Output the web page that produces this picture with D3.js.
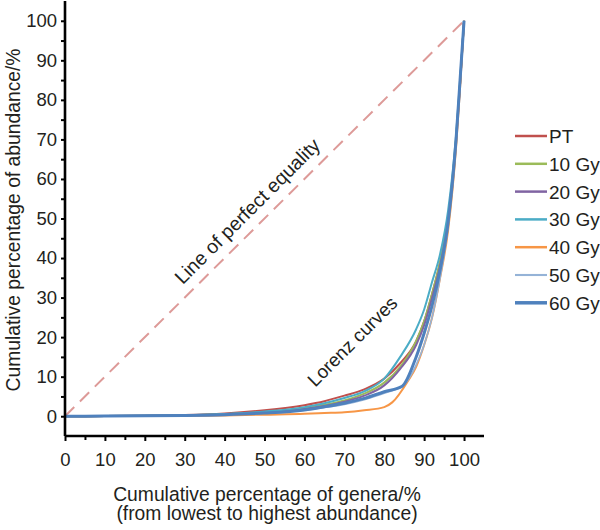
<!DOCTYPE html>
<html><head><meta charset="utf-8">
<script src="https://cdn.jsdelivr.net/npm/d3@7"></script>
<style>body{margin:0;background:#fff}svg{display:block}text{font-family:"Liberation Sans",Arial,sans-serif;fill:#231f20}</style>
</head><body><svg id="c" width="600" height="530"></svg>
<script>
const seriesNames = ["PT","10 Gy","20 Gy","30 Gy","40 Gy","50 Gy","60 Gy"];
const seriesColors = ["#c0504d","#9bbb59","#8064a2","#4bacc6","#f79646","#95b3d7","#4f81bd"];
const seriesWidths = [2,2,2,2,2,1.6,3];
const xPT   = [0,10,20,30,40,50,60,65,70,75,80,84,88,90,92,94,96,98,99,100];
const yPT   = [0,0.05,0.15,0.3,0.7,1.5,2.8,3.8,5.2,6.8,9.5,13.4,19,24,31,39,50,70,84,100];
const x10   = [0,10,20,30,40,50,60,65,70,75,80,84,88,90,92,94,96,98,99,100];
const y10   = [0,0.05,0.1,0.25,0.5,1.0,2.0,2.9,4.0,5.7,8.5,12.5,19,24,31,39,50,70,84,100];
const x20   = [0,10,20,30,40,50,60,65,70,75,80,84,88,90,92,94,96,98,99,100];
const y20   = [0,0.05,0.1,0.25,0.45,0.9,1.8,2.6,3.7,5.2,7.8,12,18,23,30,38,49,69,84,100];
const x30   = [0,10,20,30,40,50,60,65,70,75,80,84,88,90,92,94,96,98,99,100];
const y30   = [0,0.05,0.1,0.25,0.55,1.2,2.3,3.3,4.6,6.3,9.5,15,22,27,34,41,52,71,85,100];
const x40   = [0,10,20,30,40,50,60,65,70,75,80,82,86,88,90,92,94,96,98,99,100];
const y40   = [0,0.03,0.05,0.1,0.2,0.4,0.6,0.8,1.0,1.5,2.3,3.5,9,12.5,18,25,35,47,68,83,100];
const x50   = [0,10,20,30,40,50,60,65,70,75,80,85,88,90,92,94,96,98,99,100];
const y50   = [0,0.05,0.1,0.2,0.4,0.8,1.5,2.2,3.0,4.2,5.8,8,13,18,25,35,48,69,84,100];
const x60   = [0,10,20,30,40,50,60,65,70,75,80,84.5,88,90,92,94,96,98,99,100];
const y60   = [0,0.05,0.1,0.2,0.4,0.8,1.6,2.4,3.3,4.5,6.2,7.6,15,21,28,37,49,70,85,100];
const seriesX = [xPT,x10,x20,x30,x40,x50,x60];
const seriesY = [yPT,y10,y20,y30,y40,y50,y60];
const equalityX = [0,100];
const equalityY = [0,100];
const xTicks = [0,10,20,30,40,50,60,70,80,90,100];
const yTicks = [0,10,20,30,40,50,60,70,80,90,100];
const minorTicks = [5,15,25,35,45,55,65,75,85,95];

const svg = d3.select("#c");
const x = d3.scaleLinear().domain([0,105]).range([65,484]);
const y = d3.scaleLinear().domain([-5,105]).range([436,1]);

// equality line
svg.append("path")
  .attr("d", d3.line().x((d,i)=>x(equalityX[i])).y((d,i)=>y(equalityY[i]))(equalityX))
  .attr("fill","none").attr("stroke","#dd9a98").attr("stroke-width",2)
  .attr("stroke-dasharray","13,8");

// curves
const line = d3.line().curve(d3.curveMonotoneX);
seriesNames.forEach((n,i)=>{
  const pts = seriesX[i].map((v,j)=>[x(v), y(seriesY[i][j])]);
  svg.append("path").attr("d", line(pts)).attr("fill","none")
    .attr("stroke", seriesColors[i]).attr("stroke-width", seriesWidths[i])
    .attr("stroke-linejoin","round");
});

// axes
const xAxisG = svg.append("g").attr("transform",`translate(0,${y(-5)})`)
  .call(d3.axisBottom(x).tickValues(xTicks).tickSize(5).tickPadding(12));
svg.append("g").attr("transform",`translate(0,${y(-5)})`)
  .call(d3.axisBottom(x).tickValues(minorTicks).tickSize(4).tickFormat(""))
  .call(g=>g.select(".domain").remove());
const yAxisG = svg.append("g").attr("transform",`translate(${x(0)},0)`)
  .call(d3.axisLeft(y).tickValues(yTicks).tickSize(4).tickPadding(4));
svg.append("g").attr("transform",`translate(${x(0)},0)`)
  .call(d3.axisLeft(y).tickValues(minorTicks).tickSize(4).tickFormat(""))
  .call(g=>g.select(".domain").remove());
svg.selectAll(".domain").attr("stroke","#000").attr("stroke-width",2.6);
svg.selectAll(".tick line").attr("stroke","#000").attr("stroke-width",2);
svg.selectAll(".tick text").attr("font-size",18.5).attr("font-family","Liberation Sans, Arial, sans-serif").attr("fill","#231f20");
xAxisG.selectAll(".domain").attr("d",`M${x(0)},0H${x(105)}`);
yAxisG.selectAll(".domain").attr("d",`M0,${y(-5)}V${y(105)}`);

// axis titles
svg.append("text").attr("x",267).attr("y",501).attr("text-anchor","middle").attr("font-size",19.3)
  .text("Cumulative percentage of genera/%");
svg.append("text").attr("x",267).attr("y",520).attr("text-anchor","middle").attr("font-size",19.3)
  .text("(from lowest to highest abundance)");
svg.append("text").attr("transform","translate(20,220) rotate(-90)").attr("text-anchor","middle").attr("font-size",19.3)
  .text("Cumulative percentage of abundance/%");

// annotations
svg.append("text").attr("transform","translate(252,216) rotate(-45)").attr("text-anchor","middle").attr("font-size",19.5)
  .text("Line of perfect equality");
svg.append("text").attr("transform","translate(357,346) rotate(-45)").attr("text-anchor","middle").attr("font-size",18.8)
  .text("Lorenz curves");

// legend
const lg = svg.append("g");
seriesNames.forEach((n,i)=>{
  const yy = 136 + i*27.8;
  lg.append("line").attr("x1",515).attr("x2",547).attr("y1",yy).attr("y2",yy)
    .attr("stroke",seriesColors[i]).attr("stroke-width",seriesWidths[i]+0.5);
  lg.append("text").attr("x",549).attr("y",yy+7).attr("font-size",19).text(n);
});
</script></body></html>
